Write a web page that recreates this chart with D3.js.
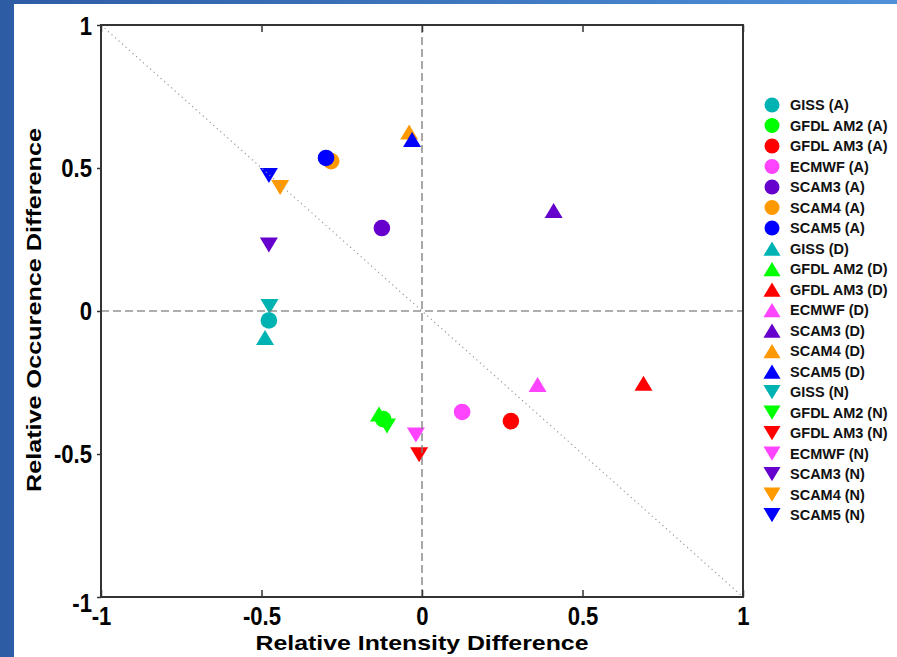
<!DOCTYPE html>
<html><head><meta charset="utf-8">
<script src="https://cdn.jsdelivr.net/npm/d3@7"></script>
<style>html,body{margin:0;padding:0;background:#fff;}svg{display:block;}</style>
</head><body>
<svg id="chart" width="897" height="657"></svg>
<script>
const models = ["GISS","GFDL AM2","GFDL AM3","ECMWF","SCAM3","SCAM4","SCAM5"];
const colors = ["#00b3b3","#00ff00","#ff0000","#ff44ff","#6600cc","#ff9900","#0000ff"];
// Relative Intensity Difference (x) / Relative Occurence Difference (y)
const intensityA  = [-0.477,-0.121, 0.277, 0.125,-0.125,-0.283,-0.299];
const occurrenceA = [-0.033,-0.378,-0.385,-0.353, 0.290, 0.524, 0.535];
const intensityD  = [-0.489,-0.134, 0.690, 0.360, 0.410,-0.040,-0.031];
const occurrenceD = [-0.093,-0.360,-0.253,-0.257, 0.351, 0.626, 0.600];
const intensityN  = [-0.475,-0.109,-0.009,-0.019,-0.477,-0.442,-0.477];
const occurrenceN = [ 0.016,-0.402,-0.503,-0.434, 0.231, 0.432, 0.474];
const regimes = ["A","D","N"];
const ticks = [-1,-0.5,0,0.5,1];
const tickLabels = ["-1","-0.5","0","0.5","1"];

const svg = d3.select("#chart");
// background frame
const defs = svg.append("defs");
const g1 = defs.append("linearGradient").attr("id","bg").attr("x1","0").attr("x2","1").attr("y1","0").attr("y2","0");
g1.append("stop").attr("offset","0").attr("stop-color","#2d5ca5");
g1.append("stop").attr("offset","1").attr("stop-color","#4f90d8");
svg.append("rect").attr("x",0).attr("y",0).attr("width",897).attr("height",657).attr("fill","url(#bg)");
svg.append("rect").attr("x",14).attr("y",4).attr("width",883).attr("height",653).attr("fill","#fff");

const L=101, R=743, T=25, B=597;
const x = d3.scaleLinear().domain([-1,1]).range([L,R]);
const y = d3.scaleLinear().domain([-1,1]).range([B,T]);

const font = "'Liberation Sans', Arial, Helvetica, sans-serif";

// markers
function markerPath(type, s){
  const w=9*s, h=7.5*s;
  if(type==="D") return `M0,${-h}L${w},${h}L${-w},${h}Z`;
  if(type==="N") return `M${-w},${-h}L${w},${-h}L0,${h}Z`;
  return null;
}
const series = [
  {type:"A", xs:intensityA, ys:occurrenceA},
  {type:"D", xs:intensityD, ys:occurrenceD},
  {type:"N", xs:intensityN, ys:occurrenceN}
];
const mg = svg.append("g");
series.forEach(s=>{
  models.forEach((m,i)=>{
    if(s.type==="A"){
      mg.append("circle").attr("cx",x(s.xs[i])).attr("cy",y(s.ys[i])).attr("r",8.3).attr("fill",colors[i]);
    } else {
      mg.append("path").attr("d",markerPath(s.type,1)).attr("transform",`translate(${x(s.xs[i])},${y(s.ys[i])})`).attr("fill",colors[i]);
    }
  });
});

// reference lines
svg.append("line").attr("x1",x(-1)).attr("y1",y(1)).attr("x2",x(1)).attr("y2",y(-1))
  .attr("stroke","#9a9a9a").attr("stroke-width",1.2).attr("stroke-dasharray","1.2,3.5");
svg.append("line").attr("x1",x(0)).attr("x2",x(0)).attr("y1",T).attr("y2",B)
  .attr("stroke","#808080").attr("stroke-opacity",0.85).attr("stroke-width",1.6).attr("stroke-dasharray","8,4");
svg.append("line").attr("x1",L).attr("x2",R).attr("y1",y(0)).attr("y2",y(0))
  .attr("stroke","#808080").attr("stroke-opacity",0.85).attr("stroke-width",1.6).attr("stroke-dasharray","8,4");

// axes box
svg.append("rect").attr("x",L).attr("y",T).attr("width",R-L).attr("height",B-T)
  .attr("fill","none").attr("stroke","#333").attr("stroke-width",2);

// ticks
const xb = svg.append("g").attr("transform",`translate(0,${B})`)
  .call(d3.axisBottom(x).tickValues(ticks).tickSize(-7).tickFormat((d,i)=>tickLabels[i]).tickPadding(10));
const xt = svg.append("g").attr("transform",`translate(0,${T})`)
  .call(d3.axisTop(x).tickValues(ticks).tickSize(-7).tickFormat(""));
const yl = svg.append("g").attr("transform",`translate(${L},0)`)
  .call(d3.axisLeft(y).tickValues(ticks).tickSize(4).tickFormat((d,i)=>tickLabels[i]).tickPadding(5));
[xb,xt,yl].forEach(a=>{
  a.select(".domain").remove();
  a.selectAll(".tick line").attr("stroke","#333").attr("stroke-width",1.5);
});
[xb,yl].forEach(a=>{
  a.selectAll(".tick text").attr("font-family",font).attr("font-weight","bold")
   .attr("font-size",26).attr("fill","#000");
});
xb.selectAll(".tick text").attr("style","transform:scaleX(0.85);transform-box:fill-box;transform-origin:center");
yl.selectAll(".tick text").attr("style","transform:scaleX(0.85);transform-box:fill-box;transform-origin:right");
yl.selectAll(".tick").filter(d=>d===-1).select("text").attr("dy","0.55em");
yl.selectAll(".tick").filter(d=>d===1).select("text").attr("dy","0.38em");

// axis titles
svg.append("text").attr("x",(L+R)/2).attr("y",650).attr("text-anchor","middle")
  .attr("font-family",font).attr("font-weight","bold").attr("font-size",21)
  .attr("textLength",333).attr("lengthAdjust","spacingAndGlyphs")
  .text("Relative Intensity Difference");
svg.append("text").attr("transform",`translate(41,${(128+492)/2}) rotate(-90)`).attr("text-anchor","middle")
  .attr("font-family",font).attr("font-weight","bold").attr("font-size",21)
  .attr("textLength",364).attr("lengthAdjust","spacingAndGlyphs")
  .text("Relative Occurence Difference");

// legend
const leg = svg.append("g");
let row=0;
regimes.forEach(rg=>{
  models.forEach((m,i)=>{
    const cy = 105 + row*20.5;
    if(rg==="A") leg.append("circle").attr("cx",772).attr("cy",cy).attr("r",7.5).attr("fill",colors[i]);
    else leg.append("path").attr("d",markerPath(rg,0.95)).attr("transform",`translate(772,${cy})`).attr("fill",colors[i]);
    leg.append("text").attr("x",790).attr("y",cy).attr("dy","0.36em")
      .attr("font-family",font).attr("font-weight","bold").attr("font-size",14.5).attr("fill","#111")
      .text(`${m} (${rg})`);
    row++;
  });
});
</script>
</body></html>
